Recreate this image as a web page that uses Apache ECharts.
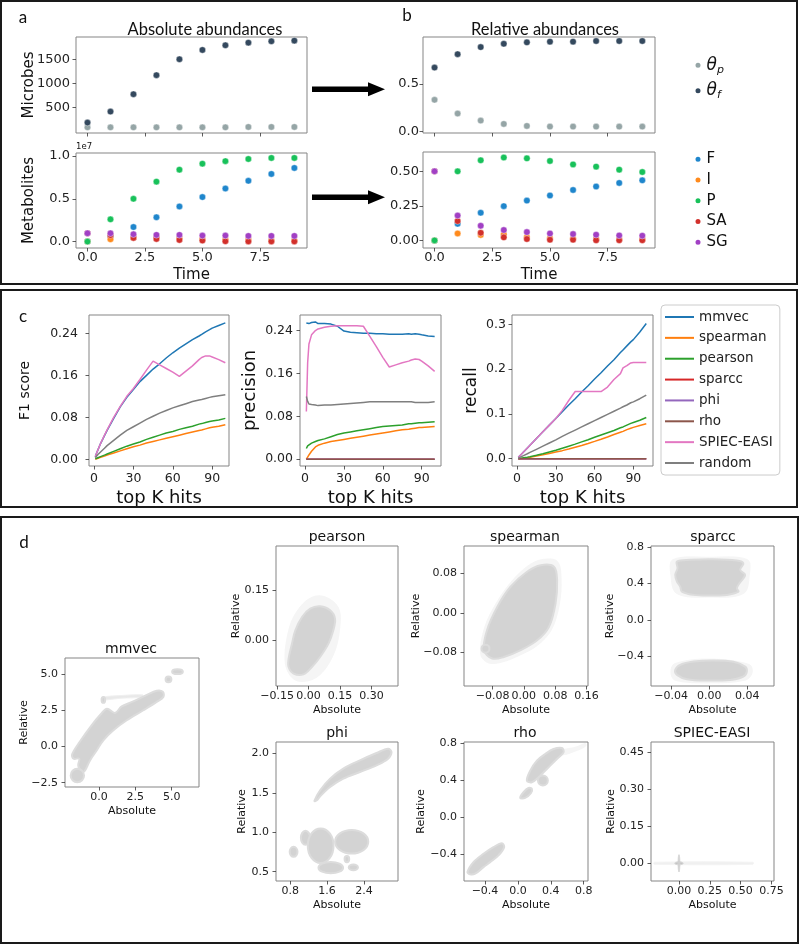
<!DOCTYPE html>
<html><head><meta charset="utf-8">
<script src="https://cdn.jsdelivr.net/npm/echarts@6/dist/echarts.min.js"></script>
<style>html,body{margin:0;padding:0;background:#fff}#c{width:800px;height:945px}</style>
</head><body><div id="c"></div>
<script>
// ---------------- DATA ----------------
// Panel a/b: time points
const time = [0,1,2,3,4,5,6,7,8,9];
const timeTicks = [0,2.5,5,7.5];
// Absolute microbes
const thetaPAbs = [92,92,92,92,92,92,92,100,100,100];
const thetaFAbs = [190,417,777,1171,1500,1692,1789,1843,1872,1885];
// Absolute metabolites (x 1e7)
const FAbs  = [0,0.06,0.17,0.284,0.41,0.52,0.62,0.71,0.79,0.86];
const IAbs  = [0,0.027,0.045,0.05,0.04,0.03,0.025,0.02,0.015,0.012];
const PAbs  = [0,0.26,0.50,0.70,0.84,0.91,0.94,0.965,0.977,0.977];
const SAAbs = [0.097,0.075,0.043,0.031,0.019,0.012,0.004,0.002,0.002,0.002];
const SGAbs = [0.097,0.097,0.086,0.078,0.078,0.07,0.07,0.066,0.066,0.066];
// Relative microbes
const thetaPRel = [0.334,0.19,0.116,0.081,0.06,0.053,0.053,0.053,0.053,0.053];
const thetaFRel = [0.672,0.813,0.887,0.922,0.937,0.944,0.944,0.951,0.951,0.951];
// Relative metabolites
const FRel  = [0,0.12,0.2,0.248,0.288,0.325,0.365,0.39,0.416,0.435];
const IRel  = [0,0.05,0.04,0.045,0.024,0.017,0.015,0.012,0.01,0.008];
const PRel  = [0,0.5,0.58,0.6,0.594,0.575,0.55,0.534,0.512,0.495];
const SARel = [0.5,0.14,0.055,0.022,0.01,0.005,0.005,0.001,0.001,0.001];
const SGRel = [0.5,0.18,0.106,0.075,0.06,0.05,0.046,0.041,0.036,0.034];

// Panel c: top K hits
const K = [1,2,3,5,8,10,15,20,25,30,35,40,45,50,55,60,65,70,75,80,82,85,88,90,95,100];
const kTicks = [0,30,60,90];
const methods = ['mmvec','spearman','pearson','sparcc','phi','rho','SPIEC-EASI','random'];
const f1Mmvec     = [0.005,0.012,0.018,0.03,0.045,0.055,0.078,0.1,0.118,0.133,0.148,0.16,0.172,0.182,0.193,0.203,0.212,0.22,0.228,0.235,0.238,0.243,0.247,0.25,0.255,0.26];
const f1Spearman  = [0,0.001,0.002,0.004,0.006,0.008,0.012,0.016,0.02,0.024,0.027,0.031,0.034,0.037,0.04,0.043,0.046,0.049,0.052,0.055,0.056,0.058,0.06,0.061,0.063,0.066];
const f1Pearson   = [0.001,0.002,0.003,0.005,0.008,0.01,0.015,0.02,0.025,0.029,0.033,0.038,0.042,0.046,0.05,0.053,0.057,0.06,0.063,0.067,0.068,0.07,0.072,0.073,0.075,0.078];
const f1Spiec     = [0.005,0.012,0.018,0.03,0.046,0.056,0.08,0.101,0.12,0.135,0.152,0.17,0.187,0.18,0.173,0.166,0.158,0.168,0.178,0.19,0.194,0.197,0.197,0.195,0.19,0.184];
const f1Random    = [0.003,0.006,0.009,0.014,0.021,0.026,0.036,0.046,0.055,0.062,0.069,0.076,0.082,0.088,0.093,0.098,0.102,0.106,0.11,0.113,0.114,0.116,0.118,0.119,0.121,0.123];
const precMmvec    = [0.254,0.255,0.253,0.255,0.256,0.253,0.253,0.252,0.248,0.239,0.237,0.236,0.235,0.235,0.234,0.234,0.233,0.233,0.233,0.234,0.233,0.234,0.233,0.232,0.23,0.229];
const precSpearman = [0,0.004,0.008,0.015,0.023,0.026,0.03,0.033,0.035,0.037,0.039,0.041,0.043,0.045,0.047,0.049,0.051,0.053,0.055,0.056,0.057,0.058,0.059,0.059,0.06,0.061];
const precPearson  = [0.02,0.025,0.028,0.03,0.033,0.035,0.038,0.042,0.046,0.049,0.051,0.053,0.055,0.057,0.059,0.061,0.062,0.063,0.064,0.066,0.066,0.067,0.068,0.068,0.069,0.07];
const precSpiec    = [0.089,0.18,0.215,0.232,0.24,0.243,0.246,0.248,0.249,0.249,0.249,0.249,0.248,0.229,0.21,0.19,0.172,0.176,0.18,0.183,0.185,0.187,0.186,0.183,0.174,0.164];
const precRandom   = [0.117,0.108,0.103,0.102,0.101,0.1,0.101,0.101,0.102,0.103,0.104,0.105,0.106,0.107,0.107,0.107,0.107,0.107,0.107,0.107,0.107,0.106,0.106,0.106,0.106,0.107];
const recMmvec    = [0.003,0.006,0.009,0.015,0.024,0.03,0.045,0.06,0.075,0.09,0.105,0.12,0.134,0.149,0.163,0.178,0.192,0.207,0.221,0.237,0.243,0.252,0.261,0.266,0.283,0.302];
const recSpearman = [0,0.0001,0.0003,0.001,0.0024,0.0034,0.006,0.0087,0.0115,0.0148,0.018,0.0215,0.0255,0.0295,0.034,0.0387,0.0435,0.0485,0.054,0.059,0.061,0.065,0.068,0.07,0.074,0.078];
const recPearson  = [0.0003,0.0007,0.001,0.002,0.0035,0.0046,0.0075,0.011,0.015,0.019,0.0235,0.028,0.0325,0.0375,0.0425,0.048,0.053,0.058,0.063,0.069,0.071,0.075,0.079,0.081,0.086,0.092];
const recSpiec    = [0.003,0.006,0.009,0.015,0.024,0.03,0.045,0.06,0.075,0.09,0.108,0.13,0.15,0.15,0.15,0.15,0.15,0.16,0.177,0.19,0.203,0.208,0.214,0.215,0.215,0.215];
const recRandom   = [0.001,0.003,0.004,0.007,0.011,0.014,0.021,0.028,0.035,0.042,0.05,0.057,0.064,0.071,0.078,0.085,0.092,0.099,0.106,0.113,0.116,0.12,0.125,0.127,0.134,0.142];
const zeroScore   = [0,0,0,0,0,0,0,0,0,0,0,0,0,0,0,0,0,0,0,0,0,0,0,0,0,0];

// Panel d: point clouds, outlines in data units
// polygons: [[x,y],...]; ellipses: [cx, cy, rx, ry]
const mmvecCloud = [
  [[-1.85,-0.55],[-1.3,0.35],[-0.55,1.4],[0.15,2.25],[0.55,2.6],[1.10,2.3],[1.56,2.75],[2.36,3.1],[3.29,3.55],[3.97,3.83],[4.39,3.76],[4.43,3.41],[3.97,3.07],[3.05,2.49],[1.91,1.80],[0.99,1.11],[0.30,0.42],[-0.16,-0.28],[-0.62,-0.97],[-0.96,-1.66],[-1.19,-1.78],[-1.43,-1.32],[-1.36,-0.85],[-1.75,-0.85]],
  [-1.49,-2.01,0.46,0.46],
  [4.78,4.62,0.2,0.2],
  [5.40,5.15,0.37,0.17],
  [0.30,3.2,0.12,0.2]
];
const mmvecFaint = [
  [[0.2,3.2],[1.5,3.32],[3.0,3.4],[3.0,3.55],[1.5,3.5],[0.2,3.38]]
];
const pearsonCloud = [
  [[-0.095,-0.055],[-0.079,-0.010],[-0.063,0.030],[-0.031,0.070],[0.008,0.095],[0.055,0.102],[0.103,0.090],[0.126,0.065],[0.118,0.030],[0.095,-0.010],[0.055,-0.050],[0.016,-0.080],[-0.024,-0.102],[-0.071,-0.100],[-0.095,-0.080]]
];
const pearsonFaint = [
  [[-0.11,-0.07],[-0.09,0.04],[-0.04,0.1],[0.02,0.13],[0.08,0.13],[0.14,0.1],[0.15,0.05],[0.12,-0.04],[0.04,-0.11],[-0.06,-0.12]]
];
const spearmanCloud = [
  [[-0.102,-0.076],[-0.094,-0.035],[-0.068,0.012],[-0.034,0.053],[0.009,0.084],[0.043,0.097],[0.077,0.094],[0.085,0.067],[0.081,0.019],[0.064,-0.029],[0.034,-0.056],[-0.008,-0.076],[-0.051,-0.090],[-0.081,-0.093]],
  [-0.098,-0.073,0.0102,0.0082]
];
const spearmanFaint = [
  [[-0.11,-0.085],[-0.1,-0.03],[-0.07,0.02],[-0.03,0.065],[0.01,0.095],[0.045,0.108],[0.085,0.105],[0.095,0.07],[0.09,0.015],[0.07,-0.035],[0.035,-0.066],[-0.01,-0.086],[-0.055,-0.1],[-0.09,-0.102]]
];
const sparccCloud = [
  [[-0.0338,0.639],[-0.0199,0.658],[0.0045,0.665],[0.029,0.650],[0.0359,0.621],[0.0325,0.548],[0.0377,0.493],[0.0318,0.402],[0.029,0.347],[0.0307,0.310],[0.0185,0.274],[-0.0024,0.266],[-0.0164,0.274],[-0.0286,0.310],[-0.0304,0.365],[-0.0338,0.420],[-0.0356,0.493],[-0.0332,0.566]],
  [[-0.0304,-0.493],[-0.0164,-0.457],[0.0045,-0.446],[0.0254,-0.460],[0.0377,-0.512],[0.0395,-0.566],[0.0359,-0.621],[0.022,-0.658],[-0.0024,-0.665],[-0.0234,-0.650],[-0.0338,-0.603],[-0.0356,-0.548]]
];
const sparccFaint = [
  [[-0.038,0.66],[0.0,0.685],[0.04,0.66],[0.042,0.49],[0.036,0.29],[0.0,0.25],[-0.034,0.29],[-0.04,0.49]],
  [[-0.036,-0.48],[0.0,-0.43],[0.042,-0.49],[0.045,-0.58],[0.038,-0.66],[0.0,-0.69],[-0.036,-0.66],[-0.04,-0.57]]
];
const phiCloud = [
  [[1.325,1.399],[1.449,1.534],[1.665,1.682],[1.952,1.809],[2.313,1.914],[2.674,2.007],[2.925,2.062],[2.999,2.019],[2.925,1.935],[2.674,1.851],[2.313,1.766],[1.952,1.682],[1.665,1.576],[1.449,1.458],[1.377,1.407]],
  [0.872,0.753,0.085,0.063],
  [1.131,0.930,0.10,0.089],
  [1.46,0.83,0.28,0.22],
  [2.134,0.880,0.36,0.15],
  [1.68,0.551,0.267,0.072],
  [2.17,0.555,0.10,0.035],
  [2.03,0.66,0.05,0.04]
];
const rhoCloud = [
  [[-0.613,-0.596],[-0.540,-0.488],[-0.418,-0.397],[-0.297,-0.325],[-0.195,-0.282],[-0.167,-0.325],[-0.236,-0.415],[-0.337,-0.488],[-0.418,-0.542],[-0.519,-0.614],[-0.580,-0.621]],
  [[0.109,0.398],[0.150,0.506],[0.231,0.615],[0.332,0.687],[0.433,0.741],[0.535,0.752],[0.555,0.705],[0.474,0.633],[0.393,0.560],[0.312,0.488],[0.251,0.434],[0.170,0.380]],
  [[0.028,0.210],[0.068,0.271],[0.129,0.318],[0.170,0.307],[0.158,0.260],[0.089,0.210]],
  [0.304,0.398,0.06,0.054]
];
const rhoFaint = [
  [[0.5,0.72],[0.7,0.76],[0.82,0.8],[0.82,0.77],[0.7,0.72],[0.55,0.68]]
];
const spiecFaint = [
  [[-0.2,-0.004],[0.6,-0.004],[0.6,0.004],[-0.2,0.004]]
];
const spiecCloud = [
  [0,0,0.035,0.006],
  [0,0,0.007,0.035]
];

// ---------------- LAYOUT / STYLE ----------------
const FONT = 'DejaVu Sans';
const TFONT = 'Lato';
const fmt = (v, d) => (v < -1e-9 ? '\u2212' : '') + Math.abs(v).toFixed(d);

const grids = [
  {left:76, top:37, width:231, height:96},     // 0 a top
  {left:76, top:153, width:231, height:95},    // 1 a bottom
  {left:423, top:37, width:232, height:96},    // 2 b top
  {left:423, top:152, width:232, height:96},   // 3 b bottom
  {left:89, top:315, width:140, height:151},   // 4 F1
  {left:300, top:315, width:141, height:151},  // 5 precision
  {left:512, top:315, width:141, height:151},  // 6 recall
  {left:65, top:658, width:134, height:129},   // 7 mmvec
  {left:276, top:546, width:122, height:140},  // 8 pearson
  {left:464, top:546, width:124, height:140},  // 9 spearman
  {left:651, top:546, width:123, height:140},  // 10 sparcc
  {left:276, top:742, width:122, height:139},  // 11 phi
  {left:464, top:742, width:124, height:139},  // 12 rho
  {left:651, top:742, width:123, height:139}   // 13 spiec
];

const xs = [
  {min:-0.5,max:9.55,t:timeTicks,d:1,fs:13,lm:3,labels:false},
  {min:-0.5,max:9.55,t:timeTicks,d:1,fs:13,lm:3,name:'Time',gap:20,ns:15},
  {min:-0.5,max:9.55,t:timeTicks,d:1,fs:13,lm:3,labels:false},
  {min:-0.5,max:9.55,t:timeTicks,d:1,fs:13,lm:3,name:'Time',gap:20,ns:15},
  {min:-3.8,max:102.8,t:kTicks,d:0,fs:12.5,lm:6,name:'top K hits',gap:23,ns:18},
  {min:-3.9,max:104.9,t:kTicks,d:0,fs:12.5,lm:6,name:'top K hits',gap:23,ns:18},
  {min:-3.9,max:105.2,t:kTicks,d:0,fs:12.5,lm:6,name:'top K hits',gap:23,ns:18},
  {min:-2.34,max:6.88,t:[0,2.5,5],d:1,fs:11,lm:5,name:'Absolute',gap:19,ns:11},
  {min:-0.155,max:0.426,t:[-0.15,0,0.15,0.3],d:2,fs:11,lm:5,name:'Absolute',gap:19,ns:11},
  {min:-0.153,max:0.164,t:[-0.08,0,0.08,0.16],d:2,fs:11,lm:5,name:'Absolute',gap:19,ns:11},
  {min:-0.061,max:0.068,t:[-0.04,0,0.04],d:2,fs:11,lm:5,name:'Absolute',gap:19,ns:11},
  {min:0.49,max:3.14,t:[0.8,1.6,2.4],d:1,fs:11,lm:5,name:'Absolute',gap:19,ns:11},
  {min:-0.655,max:0.852,t:[-0.4,0,0.4,0.8],d:1,fs:11,lm:5,name:'Absolute',gap:19,ns:11},
  {min:-0.227,max:0.771,t:[0,0.25,0.5,0.75],d:2,fs:11,lm:5,name:'Absolute',gap:19,ns:11}
];
const ys = [
  {min:-25,max:1960,t:[500,1000,1500],d:0,fs:13,lm:6,name:'Microbes',gap:39,ns:15},
  {min:-0.075,max:1.035,t:[0,0.5,1.0],d:1,fs:13,lm:6,name:'Metabolites',gap:39,ns:15},
  {min:-0.014,max:0.993,t:[0,0.5],d:1,fs:13,lm:4},
  {min:-0.055,max:0.64,t:[0,0.25,0.5],d:2,fs:13,lm:4},
  {min:-0.0128,max:0.275,t:[0,0.08,0.16,0.24],d:2,fs:12.5,lm:11,name:'F1 score',gap:57,ns:14},
  {min:-0.0126,max:0.269,t:[0,0.08,0.16,0.24],d:2,fs:12.5,lm:7,name:'precision',gap:41,ns:18},
  {min:-0.0163,max:0.321,t:[0,0.1,0.2,0.3],d:1,fs:12.5,lm:6,name:'recall',gap:32,ns:17},
  {min:-2.8,max:6.09,t:[-2.5,0,2.5,5],d:1,fs:11,lm:7,name:'Relative',gap:35,ns:11},
  {min:-0.137,max:0.283,t:[0,0.15],d:2,fs:11,lm:7,name:'Relative',gap:34,ns:11},
  {min:-0.149,max:0.136,t:[-0.08,0,0.08],d:2,fs:11,lm:7,name:'Relative',gap:42,ns:11},
  {min:-0.725,max:0.81,t:[-0.4,0,0.4,0.8],d:1,fs:11,lm:7,name:'Relative',gap:35,ns:11},
  {min:0.382,max:2.147,t:[0.5,1.0,1.5,2.0],d:1,fs:11,lm:7,name:'Relative',gap:28,ns:11},
  {min:-0.693,max:0.817,t:[-0.4,0,0.4,0.8],d:1,fs:11,lm:7,name:'Relative',gap:37,ns:11},
  {min:-0.072,max:0.493,t:[0,0.15,0.3,0.45],d:2,fs:11,lm:7,name:'Relative',gap:34,ns:11}
];

function mkAxis(gi, s){
  return {
    type:'value', gridIndex:gi, min:s.min, max:s.max, scale:true,
    axisLine:{show:false, onZero:false},
    splitLine:{show:false},
    axisTick:{show:true, inside:false, length:3.5, lineStyle:{color:'#333', width:0.8}, customValues:s.t},
    axisLabel:{show:s.labels!==false, customValues:s.t, margin:s.lm, fontSize:s.fs, color:'#222', fontFamily:FONT,
      formatter:v=>fmt(v,s.d), hideOverlap:false, showMinLabel:true, showMaxLabel:true},
    name:s.name||'', nameLocation:'middle', nameGap:s.gap||0, nameMoveOverlap:false,
    nameTextStyle:{fontSize:s.ns||12, color:'#111', fontFamily:FONT}
  };
}

const series = [];
function scat(gi, name, vals, color){
  series.push({type:'scatter', name, xAxisIndex:gi, yAxisIndex:gi, symbolSize:6.5,
    itemStyle:{color, opacity:1, borderColor:'#fff', borderWidth:0.4},
    data: time.map((t,i)=>[t, vals[i]]), silent:true});
}
const cTheta = {p:'#95a5a6', f:'#34495e'};
const cMet = {F:'#1f86cc', I:'#ff8a1c', P:'#18c15a', SA:'#d2302b', SG:'#a140c4'};
scat(0,'θp',thetaPAbs,cTheta.p); scat(0,'θf',thetaFAbs,cTheta.f);
scat(2,'θp',thetaPRel,cTheta.p); scat(2,'θf',thetaFRel,cTheta.f);
[['F',FAbs],['I',IAbs],['P',PAbs],['SA',SAAbs],['SG',SGAbs]].forEach(([n,a])=>scat(1,n,a,cMet[n]));
[['F',FRel],['I',IRel],['P',PRel],['SA',SARel],['SG',SGRel]].forEach(([n,r])=>scat(3,n,r,cMet[n]));

const mColor = {'mmvec':'#1f77b4','spearman':'#ff7f0e','pearson':'#2ca02c','sparcc':'#d62728','phi':'#9467bd','rho':'#8c564b','SPIEC-EASI':'#e377c2','random':'#7f7f7f'};
function line(gi, name, vals){
  series.push({type:'line', name, xAxisIndex:gi, yAxisIndex:gi, showSymbol:false, symbol:'none',
    color:mColor[name], lineStyle:{width:1.5, color:mColor[name]},
    data:K.map((k,i)=>[k, vals[i]]), silent:true, z:2});
}
line(4,'mmvec',f1Mmvec); line(4,'spearman',f1Spearman); line(4,'pearson',f1Pearson);
line(4,'SPIEC-EASI',f1Spiec); line(4,'random',f1Random);
line(5,'mmvec',precMmvec); line(5,'spearman',precSpearman); line(5,'pearson',precPearson);
line(5,'sparcc',zeroScore); line(5,'phi',zeroScore); line(5,'rho',zeroScore);
line(5,'SPIEC-EASI',precSpiec); line(5,'random',precRandom);
line(6,'mmvec',recMmvec); line(6,'spearman',recSpearman); line(6,'pearson',recPearson);
line(6,'sparcc',zeroScore); line(6,'phi',zeroScore); line(6,'rho',zeroScore);
line(6,'SPIEC-EASI',recSpiec); line(6,'random',recRandom);

function cloud(gi, shapes, fill, stroke, lw, tag){
  if (!shapes.length) return;
  series.push({type:'custom', name:'cloud-'+tag+'-'+gi, xAxisIndex:gi, yAxisIndex:gi, coordinateSystem:'cartesian2d',
    silent:true, clip:true, data:shapes.map((s,i)=>[i,i]), encode:{x:0,y:1},
    renderItem:(params, api)=>{
      const s = shapes[api.value(0)];
      if (Array.isArray(s[0])) {
        const pts = s.map(p=>api.coord(p));
        return {type:'polygon', shape:{points:pts, smooth:0.35}, style:{fill, stroke, lineWidth:lw}};
      }
      const c = api.coord([s[0],s[1]]);
      const ex = api.coord([s[0]+s[2],s[1]]), ey = api.coord([s[0],s[1]+s[3]]);
      return {type:'ellipse', shape:{cx:c[0], cy:c[1], rx:Math.abs(ex[0]-c[0]), ry:Math.abs(ey[1]-c[1])},
        style:{fill, stroke, lineWidth:lw}};
    }});
}
const LG = '#d3d3d3', LGE = '#dcdcdc', FG = '#f5f5f5';
cloud(7, mmvecFaint, '#e9e9e9', '#f0f0f0', 1, 'f'); cloud(7, mmvecCloud, LG, LGE, 2, 'm');
cloud(8, pearsonFaint, FG, FG, 1, 'f'); cloud(8, pearsonCloud, LG, LGE, 2, 'm');
cloud(9, spearmanFaint, FG, FG, 1, 'f'); cloud(9, spearmanCloud, LG, LGE, 2, 'm');
cloud(10, sparccFaint, FG, FG, 1, 'f'); cloud(10, sparccCloud, LG, LGE, 2, 'm');
cloud(11, phiCloud, LG, LGE, 2, 'm');
cloud(12, rhoFaint, FG, FG, 1, 'f'); cloud(12, rhoCloud, LG, LGE, 2, 'm');
cloud(13, spiecFaint, '#f0f0f0', '#f4f4f4', 1, 'f'); cloud(13, spiecCloud, '#c4c4c4', '#d8d8d8', 1, 'm');

// ---------------- GRAPHIC (frames, arrows, titles) ----------------
function txt(x, y, text, size, font, align){
  return {type:'text', x, y, silent:true, z:50,
    style:{text, fill:'#111', font:size+'px '+font, fontSize:size, fontFamily:font,
      align:align||'center', verticalAlign:'middle', textAlign:align||'center', textVerticalAlign:'middle'}};
}
const frame = (x,y,w,h)=>({type:'rect', silent:true, z:60, shape:{x,y,width:w,height:h}, style:{fill:'none', stroke:'#1a1a1a', lineWidth:2}});
const graphic = [
  frame(1,1,796,283), frame(1,290,796,217), frame(1,517,797,426),
  {type:'rect', silent:true, shape:{x:312,y:86.5,width:58,height:5.6}, style:{fill:'#000'}},
  {type:'polygon', silent:true, shape:{points:[[368,82.3],[385,89.3],[368,96.3]]}, style:{fill:'#000'}},
  {type:'rect', silent:true, shape:{x:312,y:194.5,width:58,height:5.6}, style:{fill:'#000'}},
  {type:'polygon', silent:true, shape:{points:[[368,190.3],[385,197.3],[368,204.3]]}, style:{fill:'#000'}},
  txt(23,18,'a',17,TFONT), txt(407,16,'b',17,TFONT), txt(23,317,'c',17,TFONT), txt(24,543,'d',17,TFONT),
  txt(205,29.5,'Absolute abundances',16.5,TFONT), txt(545,29.5,'Relative abundances',16.5,TFONT),
  txt(76,147,'1e7',8.5,FONT,'left'),
  txt(131,649,'mmvec',14,FONT), txt(337,537.5,'pearson',14,FONT), txt(525,537.5,'spearman',14,FONT),
  txt(713,537.5,'sparcc',14,FONT), txt(337,733,'phi',14,FONT), txt(525,733,'rho',14,FONT), txt(712,733,'SPIEC-EASI',14,FONT)
];

const option = {
  animation:false,
  backgroundColor:'#fff',
  grid: grids.map(g=>Object.assign({show:true, borderColor:'#858585', borderWidth:1, backgroundColor:'transparent', containLabel:false, outerBoundsMode:'none'}, g)),
  xAxis: xs.map((s,i)=>mkAxis(i,s)),
  yAxis: ys.map((s,i)=>mkAxis(i,s)),
  legend:[
    {data:['θp','θf'], orient:'vertical', left:693.5, top:55.3, itemGap:5.4, itemWidth:7, itemHeight:7, itemTextGap:24.5,
     icon:'circle', selectedMode:false, padding:0,
     formatter:n=> n==='θp' ? '{t|θ}{s|p}' : '{t|θ}{s|f}',
     textStyle:{color:'#111', fontFamily:FONT, fontSize:17, lineHeight:20,
       rich:{t:{fontSize:17, fontStyle:'italic', fontFamily:FONT, lineHeight:20, color:'#111'},
             s:{fontSize:11, fontStyle:'italic', fontFamily:FONT, lineHeight:20, padding:[9,0,0,0], color:'#111'}}}},
    {data:['F','I','P','SA','SG'], orient:'vertical', left:693.5, top:151.3, itemGap:4.75, itemWidth:7, itemHeight:7, itemTextGap:24.5,
     icon:'circle', selectedMode:false, padding:0,
     textStyle:{color:'#111', fontFamily:FONT, fontSize:15, lineHeight:16}},
    {data:methods, orient:'vertical', left:661, top:305, itemGap:4.86, itemWidth:29, itemHeight:2, itemTextGap:12,
     icon:'rect', selectedMode:false, padding:[4,7,4,4], backgroundColor:'#fff', borderColor:'#cccccc', borderWidth:1, borderRadius:4,
     textStyle:{color:'#222', fontFamily:FONT, fontSize:13.5, lineHeight:16}}
  ],
  graphic: graphic,
  series: series
};
const chart = echarts.init(document.getElementById('c'), null, {renderer:'canvas', width:800, height:945});
chart.setOption(option);
</script>
</body></html>
